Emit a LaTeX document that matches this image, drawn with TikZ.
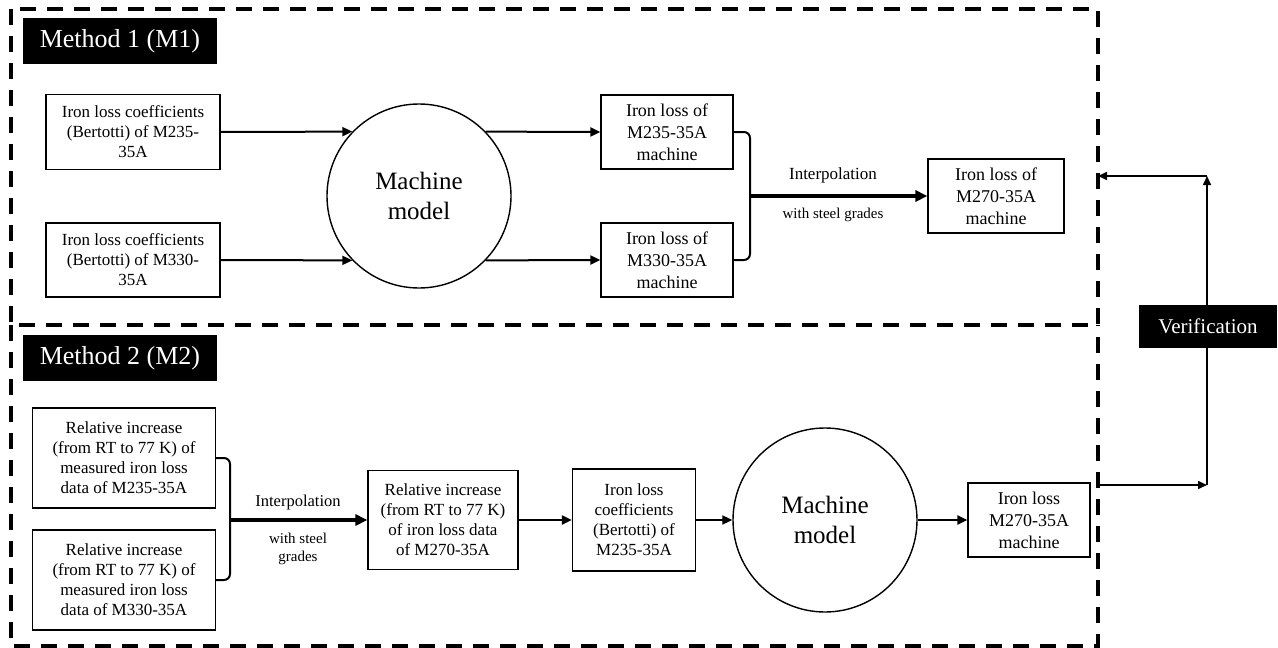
\documentclass[tikz,border=0pt]{standalone}
\usepackage{fontspec}
\setmainfont{Liberation Serif}
\usetikzlibrary{arrows.meta}

\begin{document}
\begin{tikzpicture}[x=1pt,y=-1pt,
  box/.style={draw,line width=1.2pt,align=center,inner sep=2pt,font=\fontsize{17}{20}\selectfont},
  outbox/.style={box,font=\fontsize{18}{22}\selectfont},
  modelcircle/.style={draw,circle,line width=1.4pt,minimum size=184pt,align=center,font=\fontsize{25}{30}\selectfont},
  headbox/.style={fill=black,text=white,font=\fontsize{26}{30}\selectfont},
  methodframe/.style={line width=4pt,dash pattern=on 16pt off 11pt},
  arr/.style={line width=2pt,-{Triangle[length=10pt,width=9pt]}},
  brace/.style={line width=2pt,rounded corners=6pt},
  thickarr/.style={line width=3.5pt,-{Triangle[length=12pt,width=11pt]}},
  varr/.style={line width=1.6pt,-{Triangle[length=9pt,width=8pt]}},
  lbl/.style={font=\fontsize{17}{20}\selectfont,align=center},
  sublbl/.style={font=\fontsize{15}{18}\selectfont,align=center}]
\useasboundingbox (0,0) rectangle (1278,648);

\draw[methodframe] (11,9) rectangle (1098,325);
\draw[methodframe] (11,325) -- (11,646) -- (1098,646) -- (1098,325);

\node[headbox,minimum width=194pt,minimum height=46pt] (m1tag) at (120,41) {Method 1 (M1)};
\node[headbox,minimum width=194pt,minimum height=46pt] (m2tag) at (120,358) {Method 2 (M2)};

\node[box,minimum width=174pt,minimum height=75pt] (coef235) at (133,132) {Iron loss coefficients\\(Bertotti) of M235-\\35A};
\node[box,minimum width=174pt,minimum height=74pt] (coef330) at (133,260) {Iron loss coefficients\\(Bertotti) of M330-\\35A};
\node[modelcircle] (model1) at (419,196) {Machine\\model};
\node[outbox,minimum width=132pt,minimum height=74pt] (loss235) at (667,132) {Iron loss of\\M235-35A\\machine};
\node[outbox,minimum width=132pt,minimum height=74pt] (loss330) at (667,260) {Iron loss of\\M330-35A\\machine};
\node[outbox,minimum width=136pt,minimum height=74pt] (loss270) at (996,196) {Iron loss of\\M270-35A\\machine};
\coordinate (join1) at (750,196);
\node[lbl] (interp1) at (833,175) {Interpolation};
\node[sublbl] (steel1) at (833,215) {with steel grades};

\draw[arr] (coef235.east) -- (model1.136);
\draw[arr] (coef330.east) -- (model1.224);
\draw[arr] (model1.44) -- (loss235.west);
\draw[arr] (model1.-44) -- (loss330.west);
\draw[brace] (loss235.east) -| (join1) |- (loss330.east);
\draw[thickarr] (join1) -- (loss270);

\node[box,minimum width=183pt,minimum height=100pt] (rel235) at (124,458) {Relative increase\\(from RT to 77 K) of\\measured iron loss\\data of M235-35A};
\node[box,minimum width=183pt,minimum height=100pt] (rel330) at (124,580) {Relative increase\\(from RT to 77 K) of\\measured iron loss\\data of M330-35A};
\coordinate (join2) at (230,520);
\node[box,minimum width=150pt,minimum height=99pt] (rel270) at (443,520) {Relative increase\\(from RT to 77 K)\\of iron loss data\\of M270-35A};
\node[lbl,font=\fontsize{16.5}{20}\selectfont] (interp2) at (298,503) {Interpolation};
\node[sublbl] (steel2) at (298,549) {with steel\\grades};
\node[box,minimum width=123pt,minimum height=102pt] (coefm2) at (634,520) {Iron loss\\coefficients\\(Bertotti) of\\M235-35A};
\node[modelcircle] (model2) at (825,520) {Machine\\model};
\node[outbox,minimum width=122pt,minimum height=74pt] (lossm2) at (1029,520) {Iron loss\\M270-35A\\machine};

\draw[brace] (rel235.east) -| (join2) |- (rel330.east);
\draw[thickarr] (join2) -- (rel270);
\draw[arr] (rel270) -- (coefm2);
\draw[arr] (coefm2) -- (model2);
\draw[arr] (model2) -- (lossm2);

\coordinate (ftop) at (1098,176);
\coordinate (fbot) at (1098,485);
\coordinate (vtop) at (1207,176);
\coordinate (vbot) at (1207,485);
\draw[varr] (fbot) -- (vbot);
\draw[varr] (vbot) -- (vtop);
\draw[varr] (vtop) -- (ftop);
\node[headbox,font=\fontsize{21}{24}\selectfont,minimum width=138pt,minimum height=43pt] (verif) at (1208,326) {Verification};
\end{tikzpicture}
\end{document}
